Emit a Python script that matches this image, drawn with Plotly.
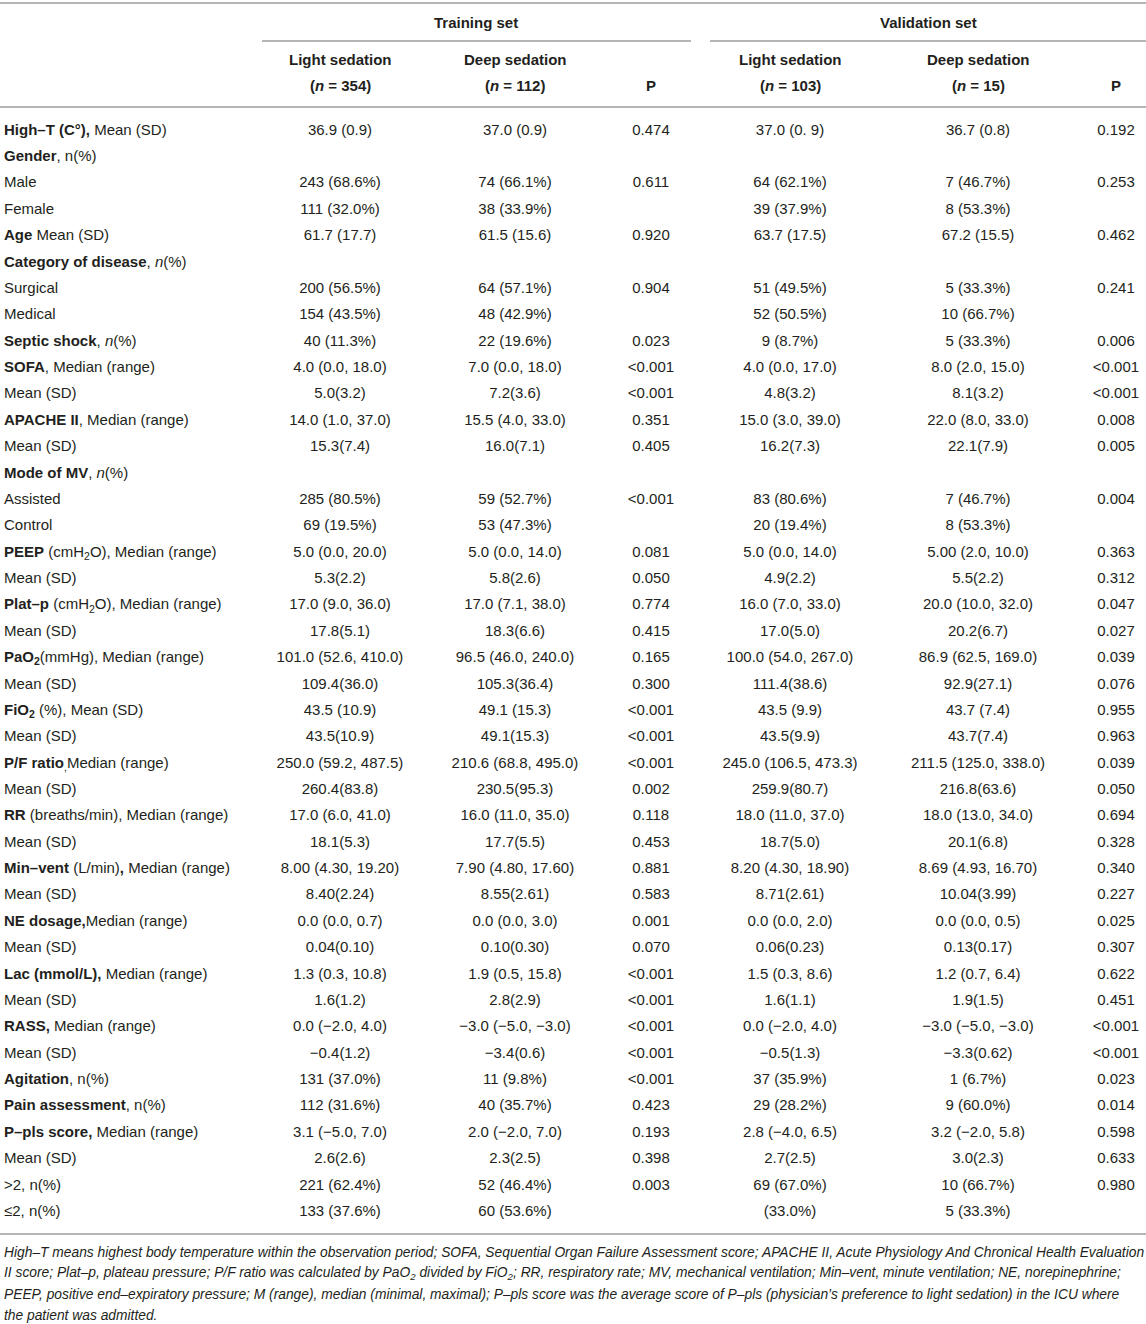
import plotly.graph_objects as go

W, H = 1146, 1324

# row labels (bold part + plain part, plotly pseudo-html)
labels = [
    "<b>High–T (C°),</b> Mean (SD)",
    "<b>Gender</b>, n(%)",
    "Male",
    "Female",
    "<b>Age</b> Mean (SD)",
    "<b>Category of disease</b>, <i>n</i>(%)",
    "Surgical",
    "Medical",
    "<b>Septic shock</b>, <i>n</i>(%)",
    "<b>SOFA</b>, Median (range)",
    "Mean (SD)",
    "<b>APACHE II</b>, Median (range)",
    "Mean (SD)",
    "<b>Mode of MV</b>, <i>n</i>(%)",
    "Assisted",
    "Control",
    "<b>PEEP</b> (cmH<sub>2</sub>O), Median (range)",
    "Mean (SD)",
    "<b>Plat–p</b> (cmH<sub>2</sub>O), Median (range)",
    "Mean (SD)",
    "<b>PaO<sub>2</sub></b>(mmHg), Median (range)",
    "Mean (SD)",
    "<b>FiO<sub>2</sub></b> (%), Mean (SD)",
    "Mean (SD)",
    "<b>P/F ratio</b><sub>,</sub>Median (range)",
    "Mean (SD)",
    "<b>RR</b> (breaths/min), Median (range)",
    "Mean (SD)",
    "<b>Min–vent</b> (L/min)<b>,</b> Median (range)",
    "Mean (SD)",
    "<b>NE dosage,</b>Median (range)",
    "Mean (SD)",
    "<b>Lac (mmol/L),</b> Median (range)",
    "Mean (SD)",
    "<b>RASS,</b> Median (range)",
    "Mean (SD)",
    "<b>Agitation</b>, n(%)",
    "<b>Pain assessment</b>, n(%)",
    "<b>P–pls score,</b> Median (range)",
    "Mean (SD)",
    "&gt;2, n(%)",
    "≤2, n(%)",
]

train_light = [
    "36.9 (0.9)", "", "243 (68.6%)", "111 (32.0%)", "61.7 (17.7)", "",
    "200 (56.5%)", "154 (43.5%)", "40 (11.3%)", "4.0 (0.0, 18.0)", "5.0(3.2)",
    "14.0 (1.0, 37.0)", "15.3(7.4)", "", "285 (80.5%)", "69 (19.5%)",
    "5.0 (0.0, 20.0)", "5.3(2.2)", "17.0 (9.0, 36.0)", "17.8(5.1)",
    "101.0 (52.6, 410.0)", "109.4(36.0)", "43.5 (10.9)", "43.5(10.9)",
    "250.0 (59.2, 487.5)", "260.4(83.8)", "17.0 (6.0, 41.0)", "18.1(5.3)",
    "8.00 (4.30, 19.20)", "8.40(2.24)", "0.0 (0.0, 0.7)", "0.04(0.10)",
    "1.3 (0.3, 10.8)", "1.6(1.2)", "0.0 (−2.0, 4.0)", "−0.4(1.2)",
    "131 (37.0%)", "112 (31.6%)", "3.1 (−5.0, 7.0)", "2.6(2.6)",
    "221 (62.4%)", "133 (37.6%)",
]

train_deep = [
    "37.0 (0.9)", "", "74 (66.1%)", "38 (33.9%)", "61.5 (15.6)", "",
    "64 (57.1%)", "48 (42.9%)", "22 (19.6%)", "7.0 (0.0, 18.0)", "7.2(3.6)",
    "15.5 (4.0, 33.0)", "16.0(7.1)", "", "59 (52.7%)", "53 (47.3%)",
    "5.0 (0.0, 14.0)", "5.8(2.6)", "17.0 (7.1, 38.0)", "18.3(6.6)",
    "96.5 (46.0, 240.0)", "105.3(36.4)", "49.1 (15.3)", "49.1(15.3)",
    "210.6 (68.8, 495.0)", "230.5(95.3)", "16.0 (11.0, 35.0)", "17.7(5.5)",
    "7.90 (4.80, 17.60)", "8.55(2.61)", "0.0 (0.0, 3.0)", "0.10(0.30)",
    "1.9 (0.5, 15.8)", "2.8(2.9)", "−3.0 (−5.0, −3.0)", "−3.4(0.6)",
    "11 (9.8%)", "40 (35.7%)", "2.0 (−2.0, 7.0)", "2.3(2.5)",
    "52 (46.4%)", "60 (53.6%)",
]

train_p = [
    "0.474", "", "0.611", "", "0.920", "",
    "0.904", "", "0.023", "&lt;0.001", "&lt;0.001",
    "0.351", "0.405", "", "&lt;0.001", "",
    "0.081", "0.050", "0.774", "0.415",
    "0.165", "0.300", "&lt;0.001", "&lt;0.001",
    "&lt;0.001", "0.002", "0.118", "0.453",
    "0.881", "0.583", "0.001", "0.070",
    "&lt;0.001", "&lt;0.001", "&lt;0.001", "&lt;0.001",
    "&lt;0.001", "0.423", "0.193", "0.398",
    "0.003", "",
]

val_light = [
    "37.0 (0. 9)", "", "64 (62.1%)", "39 (37.9%)", "63.7 (17.5)", "",
    "51 (49.5%)", "52 (50.5%)", "9 (8.7%)", "4.0 (0.0, 17.0)", "4.8(3.2)",
    "15.0 (3.0, 39.0)", "16.2(7.3)", "", "83 (80.6%)", "20 (19.4%)",
    "5.0 (0.0, 14.0)", "4.9(2.2)", "16.0 (7.0, 33.0)", "17.0(5.0)",
    "100.0 (54.0, 267.0)", "111.4(38.6)", "43.5 (9.9)", "43.5(9.9)",
    "245.0 (106.5, 473.3)", "259.9(80.7)", "18.0 (11.0, 37.0)", "18.7(5.0)",
    "8.20 (4.30, 18.90)", "8.71(2.61)", "0.0 (0.0, 2.0)", "0.06(0.23)",
    "1.5 (0.3, 8.6)", "1.6(1.1)", "0.0 (−2.0, 4.0)", "−0.5(1.3)",
    "37 (35.9%)", "29 (28.2%)", "2.8 (−4.0, 6.5)", "2.7(2.5)",
    "69 (67.0%)", "(33.0%)",
]

val_deep = [
    "36.7 (0.8)", "", "7 (46.7%)", "8 (53.3%)", "67.2 (15.5)", "",
    "5 (33.3%)", "10 (66.7%)", "5 (33.3%)", "8.0 (2.0, 15.0)", "8.1(3.2)",
    "22.0 (8.0, 33.0)", "22.1(7.9)", "", "7 (46.7%)", "8 (53.3%)",
    "5.00 (2.0, 10.0)", "5.5(2.2)", "20.0 (10.0, 32.0)", "20.2(6.7)",
    "86.9 (62.5, 169.0)", "92.9(27.1)", "43.7 (7.4)", "43.7(7.4)",
    "211.5 (125.0, 338.0)", "216.8(63.6)", "18.0 (13.0, 34.0)", "20.1(6.8)",
    "8.69 (4.93, 16.70)", "10.04(3.99)", "0.0 (0.0, 0.5)", "0.13(0.17)",
    "1.2 (0.7, 6.4)", "1.9(1.5)", "−3.0 (−5.0, −3.0)", "−3.3(0.62)",
    "1 (6.7%)", "9 (60.0%)", "3.2 (−2.0, 5.8)", "3.0(2.3)",
    "10 (66.7%)", "5 (33.3%)",
]

val_p = [
    "0.192", "", "0.253", "", "0.462", "",
    "0.241", "", "0.006", "&lt;0.001", "&lt;0.001",
    "0.008", "0.005", "", "0.004", "",
    "0.363", "0.312", "0.047", "0.027",
    "0.039", "0.076", "0.955", "0.963",
    "0.039", "0.050", "0.694", "0.328",
    "0.340", "0.227", "0.025", "0.307",
    "0.622", "0.451", "&lt;0.001", "&lt;0.001",
    "0.023", "0.014", "0.598", "0.633",
    "0.980", "",
]

group_titles = ["Training set", "Validation set"]
header_top = ["Light sedation", "Deep sedation", "", "Light sedation", "Deep sedation", ""]
header_bottom = ["(<i>n</i> = 354)", "(<i>n</i> = 112)", "P",
                 "(<i>n</i> = 103)", "(<i>n</i> = 15)", "P"]

footnote = [
    "High–T means highest body temperature within the observation period; SOFA, Sequential Organ Failure Assessment score; APACHE II, Acute Physiology And Chronical Health Evaluation",
    "II score; Plat–p, plateau pressure; P/F ratio was calculated by PaO<sub>2</sub> divided by FiO<sub>2</sub>; RR, respiratory rate; MV, mechanical ventilation; Min–vent, minute ventilation; NE, norepinephrine;",
    "PEEP, positive end–expiratory pressure; M (range), median (minimal, maximal); P–pls score was the average score of P–pls (physician’s preference to light sedation) in the ICU where",
    "the patient was admitted.",
]

# layout constants
FONT = "Liberation Sans, Arial, Helvetica, sans-serif"
TXT = "#231f20"
LINE = "#b5b5b5"
FS = 15
col_x = [340, 515, 651, 790, 978, 1116]
row_pitch = 26.37
first_row_px = 131
y0 = -first_row_px / row_pitch
y1 = y0 + H / row_pitch

columns = [train_light, train_deep, train_p, val_light, val_deep, val_p]


def py(px):
    # pixel from top -> paper coordinate
    return 1 - px / H


fig = go.Figure()

fig.add_trace(go.Scatter(
    x=[4] * len(labels), y=list(range(len(labels))), text=labels, mode="text",
    textposition="middle right", textfont=dict(family=FONT, size=FS, color=TXT),
    hoverinfo="skip", showlegend=False,
))
for cx, col in zip(col_x, columns):
    idx = [i for i, v in enumerate(col) if v]
    fig.add_trace(go.Scatter(
        x=[cx] * len(idx), y=idx, text=[col[i] for i in idx], mode="text",
        textposition="middle center", textfont=dict(family=FONT, size=FS, color=TXT),
        hoverinfo="skip", showlegend=False,
    ))

ann = []
for title, cx in zip(group_titles, [476, 928]):
    ann.append(dict(x=cx, xref="x", y=py(22), yref="paper", yanchor="middle",
                    text=f"<b>{title}</b>", showarrow=False,
                    font=dict(family=FONT, size=FS, color=TXT)))
for top, bottom, cx in zip(header_top, header_bottom, col_x):
    if top:
        ann.append(dict(x=cx, xref="x", y=py(60), yref="paper", yanchor="middle",
                        text=f"<b>{top}</b>", showarrow=False,
                        font=dict(family=FONT, size=FS, color=TXT)))
    ann.append(dict(x=cx, xref="x", y=py(85), yref="paper", yanchor="middle",
                    text=f"<b>{bottom}</b>", showarrow=False,
                    font=dict(family=FONT, size=FS, color=TXT)))
for i, line in enumerate(footnote):
    ann.append(dict(x=2, xref="x", xanchor="left", y=py(1252 + i * 21), yref="paper",
                    yanchor="middle", text=f"<i>{line}</i>", showarrow=False, align="left",
                    font=dict(family=FONT, size=13.8, color=TXT)))

shapes = []
for x_a, x_b, ypx in [(0, W, 3), (262, 691, 41), (710, W, 41), (0, W, 107), (0, W, 1234)]:
    shapes.append(dict(type="line", xref="x", yref="paper", x0=x_a, x1=x_b,
                       y0=py(ypx), y1=py(ypx), line=dict(color=LINE, width=2)))

fig.update_layout(
    width=W, height=H,
    margin=dict(l=0, r=0, t=0, b=0),
    paper_bgcolor="white", plot_bgcolor="white",
    xaxis=dict(range=[0, W], visible=False, fixedrange=True),
    yaxis=dict(range=[y1, y0], visible=False, fixedrange=True),
    annotations=ann, shapes=shapes,
)

# drop the default 8px page margin so the table starts at the window corner
fig.write_html("out.html", config={"displayModeBar": False},
               post_script="document.body.style.margin='0';")
